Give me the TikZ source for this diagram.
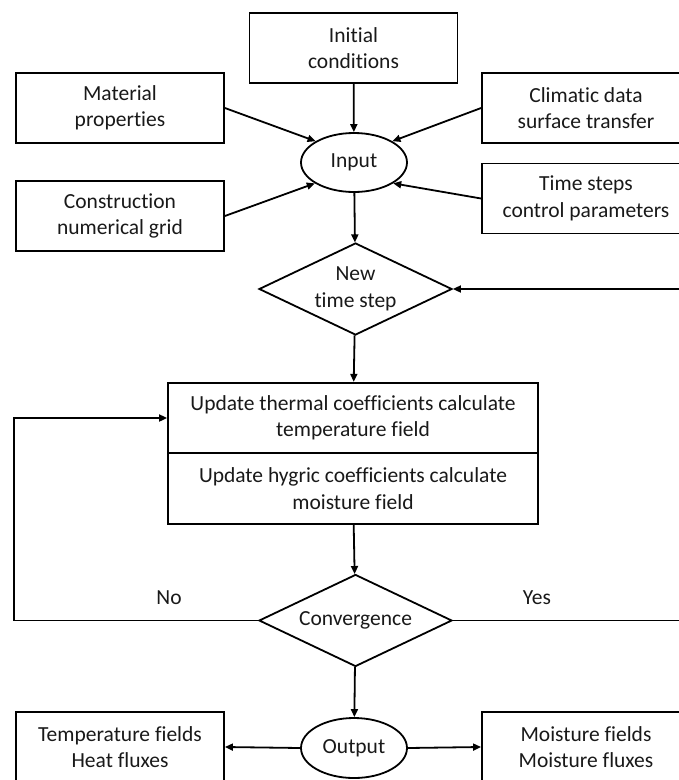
\documentclass[tikz,border=0pt]{standalone}
\usepackage{fontspec}
\setmainfont[Ligatures=NoCommon]{Carlito}
\usetikzlibrary{shapes.geometric,arrows.meta}
\begin{document}
\begin{tikzpicture}[x=1pt,y=-1pt,
  every node/.style={font=\fontsize{21.5}{26.5}\selectfont, align=center, text=black!90},
  box/.style={draw, line width=1.8pt, rectangle, inner sep=0pt, minimum width=208pt, minimum height=70pt},
  widebox/.style={draw, line width=1.8pt, rectangle, inner sep=0pt, minimum width=370pt, minimum height=70.5pt},
  oval/.style={draw, line width=1.8pt, ellipse, inner sep=0pt, minimum width=106pt, minimum height=59pt},
  decision/.style={draw, line width=1.8pt, diamond, inner sep=0pt, aspect=2.1, minimum width=193pt, minimum height=92pt},
  arr/.style={line width=1.8pt, -{Triangle[length=8pt,width=7pt]}}]
\useasboundingbox (0,0) rectangle (679,780);
\clip (0,0) rectangle (679,780);
% top inputs
\node[box] (ini) at (353.5,48) {Initial\\conditions};
\node[box] (mat) at (120,108) {Material\\properties};
\node[box] (cli) at (586,108) {Climatic data\\surface transfer};
\node[box] (con) at (120,216) {Construction\\numerical grid};
\node[box] (ts)  at (586,198.5) {Time steps\\control parameters};
\node[oval] (inp) at (354,162.5) {Input};
% main flow
\node[decision] (nts) at (355.5,289) {New\\time step};
\node[widebox] (up1) at (353,418) {Update thermal coefficients calculate\\temperature field};
\node[widebox, minimum height=71pt] (up2) at (353,488.5) {Update hygric coefficients calculate\\moisture field};
\node[decision] (conv) at (355.5,620.5) {Convergence};
\node[oval, minimum height=60pt] (out) at (354,748) {Output};
\node[box] (tf) at (120,747) {Temperature fields\\Heat fluxes};
\node[box] (mf) at (586,747) {Moisture fields\\Moisture fluxes};
\node (no) at (169,598) {No};
\node (yes) at (537,598) {Yes};
\coordinate (lc) at (14,620.5);
\coordinate (rc) at (700,620.5);
% connectors
\draw[arr] (ini) -- (inp);
\draw[arr] (mat.east) -- (inp.151);
\draw[arr] (cli.west) -- (inp.29);
\draw[arr] (con.east) -- (inp.208);
\draw[arr] (ts.west) -- (inp.332);
\draw[arr] (inp) -- (nts);
\draw[arr] (nts) -- (up1);
\draw[arr] (up2) -- (conv);
\draw[arr] (conv) -- (out);
\draw[arr] (conv.west) -- (lc) |- (up1.west);
\draw[arr] (conv.east) -- (rc) |- (nts.east);
\draw[arr] (out.west) -- (tf.east);
\draw[arr] (out.east) -- (mf.west);
\end{tikzpicture}
\end{document}
